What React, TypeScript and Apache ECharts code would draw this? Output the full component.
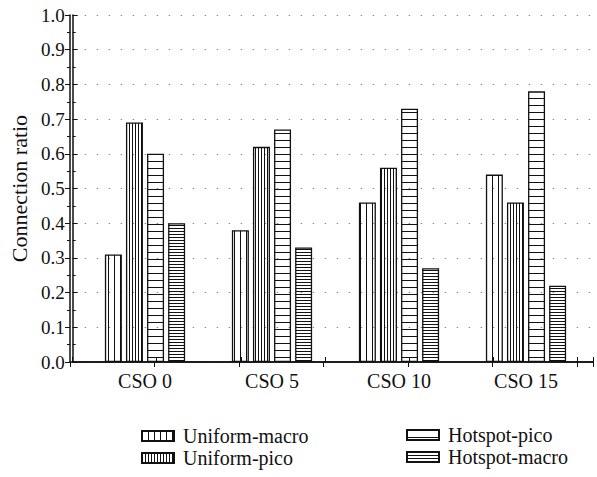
import React, { useEffect, useRef } from "react";
import * as echarts from "echarts";

const categories = ["CSO 0", "CSO 5", "CSO 10", "CSO 15"];
const seriesNames = ["Uniform-macro", "Uniform-pico", "Hotspot-pico", "Hotspot-macro"];
const uniformMacro = [0.31, 0.38, 0.46, 0.54];
const uniformPico = [0.69, 0.62, 0.56, 0.46];
const hotspotPico = [0.6, 0.67, 0.73, 0.78];
const hotspotMacro = [0.4, 0.33, 0.27, 0.22];
const yTicks = [0, 0.1, 0.2, 0.3, 0.4, 0.5, 0.6, 0.7, 0.8, 0.9, 1.0];

const FONT = "Liberation Serif";
const INK = "#111";

function makePattern(w: number, h: number, vertical: boolean) {
  const c = document.createElement("canvas");
  c.width = w;
  c.height = h;
  const ctx = c.getContext("2d")!;
  ctx.fillStyle = INK;
  if (vertical) ctx.fillRect(0, 0, 1, h);
  else ctx.fillRect(0, 0, w, 1);
  return { image: c, repeat: "repeat", imageWidth: w, imageHeight: h } as any;
}

export default function App() {
  const ref = useRef<HTMLDivElement>(null);
  useEffect(() => {
    if (!ref.current) return;
    const chart = echarts.init(ref.current, undefined, { renderer: "svg" });
    const patterns = [
      makePattern(6, 4, true),
      makePattern(3, 4, true),
      makePattern(4, 7, false),
      makePattern(4, 3, false),
    ];
    const values = [uniformMacro, uniformPico, hotspotPico, hotspotMacro];
    const textStyle = { fontFamily: FONT, fontSize: 19, color: "#111" };
    const series = seriesNames.map((name, i) => ({
      name,
      type: "bar",
      xAxisIndex: 2,
      yAxisIndex: 2,
      data: values[i],
      barWidth: 17,
      barGap: "24%",
      itemStyle: { color: patterns[i], borderColor: INK, borderWidth: 1.3 },
      emphasis: { disabled: true },
    }));
    const legendCommon = {
      orient: "vertical",
      itemWidth: 32,
      itemHeight: 10,
      itemGap: 2,
      padding: 0,
      height: 50,
      selectedMode: false,
      icon: "rect",
      textStyle: { ...textStyle, fontSize: 20, lineHeight: 20, padding: [0, 0, 0, 4] },
    };
    chart.setOption({
      animation: false,
      backgroundColor: "#fff",
      grid: [
        { left: 70, top: 15, width: 523, height: 347 },
        { left: 70, top: 15, width: 523, height: 347 },
        { left: 81.5, top: 15, width: 508, height: 347 },
      ],
      legend: [
        { ...legendCommon, data: [seriesNames[0], seriesNames[1]], left: 141, top: 426 },
        { ...legendCommon, data: [seriesNames[2], seriesNames[3]], left: 406, top: 425 },
      ],
      xAxis: [
        {
          type: "value",
          gridIndex: 0,
          min: 0,
          max: 6.19,
          interval: 1,
          position: "bottom",
          axisLine: { show: true, lineStyle: { color: INK, width: 1.5 } },
          axisTick: { show: true, inside: true, length: 5, lineStyle: { color: INK } },
          axisLabel: { show: false },
          splitLine: { show: false },
        },
        {
          type: "value",
          gridIndex: 1,
          min: 0,
          max: 6.19,
          interval: 1,
          position: "top",
          axisLine: { show: true, lineStyle: { color: INK, width: 1.5 } },
          axisTick: { show: true, inside: true, length: 5, lineStyle: { color: INK } },
          axisLabel: { show: false },
          splitLine: { show: false },
        },
        {
          type: "category",
          gridIndex: 2,
          data: categories,
          axisLine: { show: false },
          axisTick: { show: false },
          axisLabel: { ...textStyle, fontSize: 20, margin: 9 },
          splitLine: { show: false },
        },
      ],
      yAxis: [
        {
          type: "value",
          gridIndex: 0,
          min: 0,
          max: 1,
          interval: 0.1,
          position: "left",
          name: "Connection ratio",
          nameLocation: "middle",
          nameGap: 42,
          nameTextStyle: { ...textStyle, fontSize: 22 },
          axisLine: { show: true, lineStyle: { color: INK, width: 1.5 } },
          axisTick: { show: true, inside: true, length: 5, lineStyle: { color: INK } },
          minorTick: { show: true, splitNumber: 2, length: 3, lineStyle: { color: INK } },
          axisLabel: {
            ...textStyle,
            fontSize: 19,
            margin: 8,
            formatter: (v: number) => {
              const t = yTicks.find((x) => Math.abs(x - v) < 1e-6);
              return t === undefined ? "" : t.toFixed(1);
            },
          },
          splitLine: {
            show: true,
            lineStyle: { color: "#888", width: 1.2, type: [1.5, 10.5] },
          },
        },
        {
          type: "value",
          gridIndex: 1,
          min: 0,
          max: 1,
          interval: 0.1,
          position: "right",
          axisLine: { show: true, lineStyle: { color: INK, width: 1.5 } },
          axisTick: { show: true, inside: true, length: 5, lineStyle: { color: INK } },
          minorTick: { show: true, splitNumber: 2, length: 3, lineStyle: { color: INK } },
          axisLabel: { show: false },
          splitLine: { show: false },
        },
        {
          type: "value",
          gridIndex: 2,
          min: 0,
          max: 1,
          show: false,
          splitLine: { show: false },
        },
      ],
      series,
    });
    return () => chart.dispose();
  }, []);
  return <div ref={ref} style={{ width: 597, height: 477, position: "absolute", left: 0, top: 0 }} />;
}
